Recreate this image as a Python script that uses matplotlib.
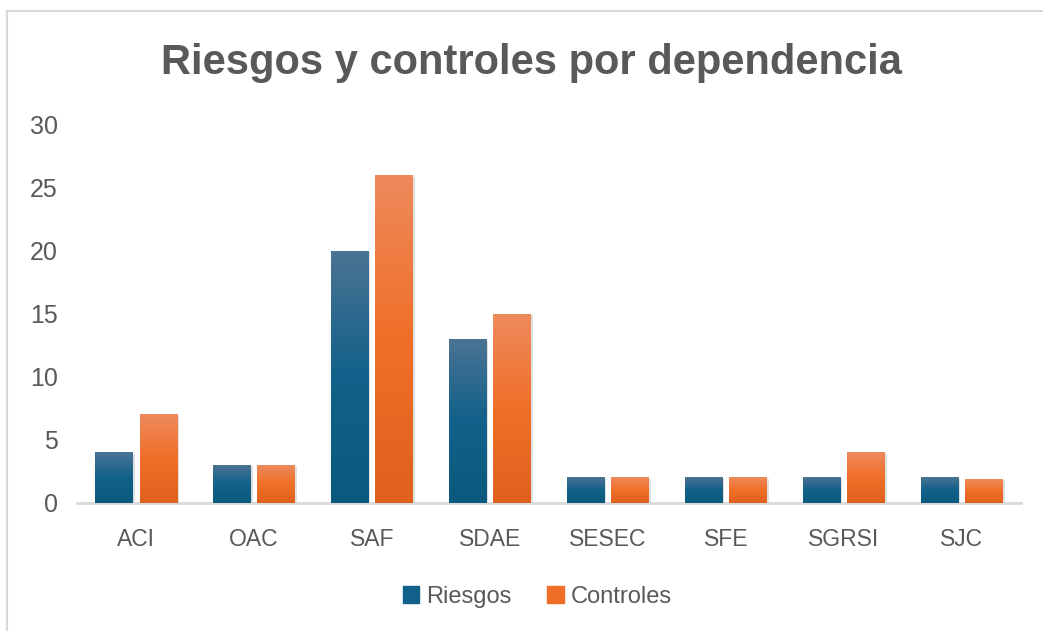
import numpy as np
import matplotlib
matplotlib.use("Agg")
import matplotlib.pyplot as plt
from matplotlib import patheffects as pe
from matplotlib.colors import LinearSegmentedColormap
from matplotlib.patches import Rectangle

# datos
dependencias = ["ACI", "OAC", "SAF", "SDAE", "SESEC", "SFE", "SGRSI", "SJC"]
riesgos = [4, 3, 20, 13, 2, 2, 2, 2]
controles = [7, 3, 26, 15, 2, 2, 4, 1.9]

plt.rcParams['font.family'] = ['Liberation Sans Narrow', 'Liberation Sans', 'DejaVu Sans']
gris = "#595959"

fig = plt.figure(figsize=(10.43, 6.31), dpi=100)
ax = fig.add_axes([0.0738, 0.203, 0.905, 0.599])

# gradientes de las barras (claro arriba, oscuro abajo)
cmap_azul = LinearSegmentedColormap.from_list("az", ["#0b597d", "#11618a", "#4b7393"])
cmap_nar = LinearSegmentedColormap.from_list("na", ["#df611d", "#f06f28", "#ee8a5c"])

x = np.arange(len(dependencias))
w = 0.32
off = 0.19
b1 = ax.bar(x - off, riesgos, w, color="#11618a", label="Riesgos", zorder=2)
b2 = ax.bar(x + off, controles, w, color="#f06f28", label="Controles", zorder=2)

grad = np.linspace(0, 1, 256).reshape(-1, 1)
sombra = [pe.SimplePatchShadow(offset=(1.5, -1), shadow_rgbFace="#999999", alpha=0.3), pe.Normal()]
for bars, cm in [(b1, cmap_azul), (b2, cmap_nar)]:
    for b in bars:
        b.set_path_effects(sombra)
        bx, by = b.get_x(), b.get_y()
        bw, bh = b.get_width(), b.get_height()
        ax.imshow(grad, cmap=cm, origin="lower", aspect="auto",
                  extent=(bx, bx + bw, by, by + bh), zorder=3)

ax.set_xlim(-0.5, len(dependencias) - 0.5)
ax.set_ylim(0, 30)
ax.set_yticks(range(0, 31, 5))
ax.set_xticks(x)
ax.set_xticklabels(dependencias)
ax.tick_params(axis="both", length=0, labelcolor=gris)
ax.tick_params(axis="y", pad=14, labelsize=18)
ax.tick_params(axis="x", pad=18, labelsize=16.5)

for s in ["top", "right", "left"]:
    ax.spines[s].set_visible(False)
ax.spines["bottom"].set_color("#d9d9d9")
ax.spines["bottom"].set_linewidth(2)

fig.text(0.51, 0.9, "Riesgos y controles por dependencia", ha="center", va="center",
         fontsize=30, fontweight="bold", color=gris)

h = [Rectangle((0, 0), 1, 1, color="#11618a"), Rectangle((0, 0), 1, 1, color="#f06f28")]
fig.legend(h, ["Riesgos", "Controles"], loc="center", bbox_to_anchor=(0.515, 0.054), ncol=2,
           frameon=False, fontsize=17, labelcolor=gris, handlelength=0.7, handleheight=0.7,
           handletextpad=0.3, columnspacing=1.5)

# borde del gráfico
fig.patches.append(Rectangle((7 / 1043, -0.1), 1.2, 1 - 11 / 631 + 0.1, transform=fig.transFigure,
                             fill=False, edgecolor="#d9d9d9", linewidth=1.5))

fig.savefig("out.png", dpi=100)
